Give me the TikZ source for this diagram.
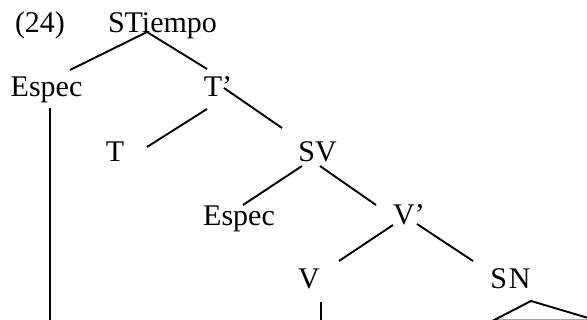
\documentclass[tikz,border=0pt]{standalone}
\usepackage{fontspec}
\setmainfont{Liberation Serif}
\usetikzlibrary{calc}
\begin{document}
\begin{tikzpicture}[x=1pt,y=-1pt,
  lbl/.style={anchor=base,inner sep=0pt,font=\fontsize{30}{36}\selectfont},
  edge/.style={line width=1.9pt,line cap=butt}]
\useasboundingbox (0,0) rectangle (587,320);

% category labels, placed by their baselines
\node[lbl] (ex)  at (40,33)    {(24)};
\node[lbl] (st)  at (162.5,33) {STiempo};
\node[lbl] (es1) at (46.5,97)  {Espec};
\node[lbl] (tb)  at (218,97)   {T’};
\node[lbl] (t)   at (115,162)  {T};
\node[lbl] (sv)  at (317.5,162){SV};
\node[lbl] (es2) at (239,226)  {Espec};
\node[lbl] (vb)  at (409,225)  {V’};
\node[lbl] (v)   at (309,289)  {V};
\node[lbl] (sn)  at (510.5,289){S\kern2pt N};

% branches
\draw[edge] ($(st.base)+(-15.5,-1)$) -- ($(es1.base)+(23.5,-27)$);
\draw[edge] ($(st.base)+(-15.5,-1)$) -- ($(tb.base)+(-11,-28)$);
\draw[edge] ($(tb.base)+(-11,12)$)   -- ($(t.base)+(32,-15)$);
\draw[edge] ($(tb.base)+(6,-9)$)     -- ($(sv.base)+(-35.5,-34)$);
\draw[edge] ($(sv.base)+(-15.5,4)$)  -- ($(es2.base)+(4,-21)$);
\draw[edge] ($(sv.base)+(2.5,4)$)    -- ($(vb.base)+(-33,-20)$);
\draw[edge] ($(vb.base)+(-16,0)$)    -- ($(v.base)+(30,-28)$);
\draw[edge] ($(vb.base)+(8,-1)$)     -- ($(sn.base)+(-37.5,-28)$);

% lines running down off the lower edge
\coordinate (es1foot) at ($(es1.base)+(3.5,11)$);
\coordinate (es1end)  at ($(es1foot)+(0,215)$);
\draw[edge] (es1foot) -- (es1end);
\coordinate (vfoot) at ($(v.base)+(12,13)$);
\coordinate (vend)  at ($(vfoot)+(0,20)$);
\draw[edge] (vfoot) -- (vend);

% roof over SN
\coordinate (roof) at ($(sn.base)+(20.5,12)$);
\draw[edge,line join=miter] ($(roof)+(-38,19.6)$) -- (roof) -- ($(roof)+(66,19.6)$) -- cycle;
\end{tikzpicture}
\end{document}
